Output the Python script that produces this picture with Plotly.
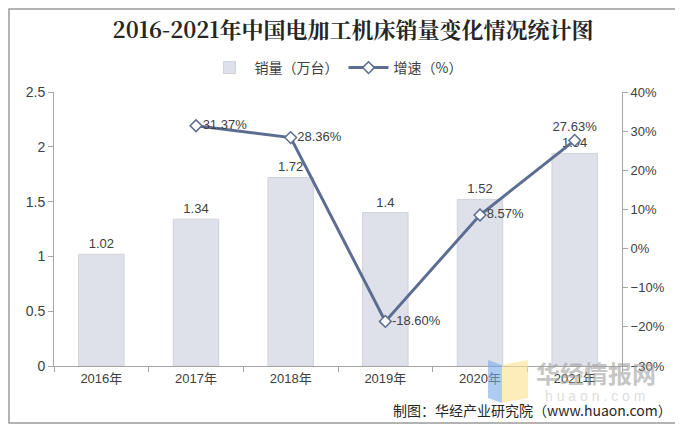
import plotly.graph_objects as go

years = ["2016年", "2017年", "2018年", "2019年", "2020年", "2021年"]
sales = [1.02, 1.34, 1.72, 1.4, 1.52, 1.94]
growth = [None, 31.37, 28.36, -18.60, 8.57, 27.63]
growth_labels = ["", "31.37%", "28.36%", "-18.60%", "8.57%", "27.63%"]
growth_pos = ["middle right", "middle right", "middle right", "middle right", "middle right", "top center"]

font_main = "Liberation Sans, Arial, Noto Sans CJK SC, sans-serif"
axis_col = "#a6a6a6"

# page offset (browser body margin) compensation
L, T, R, B = 46, 84, 69, 73
PW, PH = 683 - L - R, 431 - T - B


def px(xs):
    return (xs - 8 - L) / PW


def py(ys):
    return (431 - B - (ys - 8)) / PH


fig = go.Figure()
fig.add_trace(go.Bar(
    x=years, y=sales, name="销量（万台）",
    marker=dict(color="#dfe1ea", line=dict(color="#d0d2da", width=1)),
    width=0.48,
    text=[f"{v:g}" for v in sales], textposition="outside",
    textfont=dict(size=13, color="#404040", family=font_main),
    cliponaxis=False, yaxis="y",
))
fig.add_trace(go.Scatter(
    x=years, y=growth, name="增速（%）", yaxis="y2",
    mode="lines+markers+text",
    line=dict(color="#5b6e91", width=3),
    marker=dict(symbol="diamond", size=9, color="white", line=dict(color="#5b6e91", width=1.5)),
    text=growth_labels, textposition=growth_pos,
    textfont=dict(size=13, color="#404040", family=font_main),
    cliponaxis=False,
))

fig.update_layout(
    width=683, height=431,
    margin=dict(l=L, r=R, t=T, b=B),
    paper_bgcolor="white", plot_bgcolor="white",
    font=dict(family=font_main, size=13, color="#404040"),
    title=dict(text="<b>2016-2021年中国电加工机床销量变化情况统计图</b>",
               x=px(341), xanchor="center", y=1 - (30 - 8) / 431, yanchor="middle",
               font=dict(size=22, color="#262626", family="Noto Serif CJK SC, Noto Sans CJK SC, serif")),
    showlegend=True,
    legend=dict(orientation="h", x=px(336), xanchor="center", y=py(68), yanchor="middle",
                font=dict(size=14, color="#404040", family="Noto Sans CJK SC, sans-serif"),
                itemwidth=40, traceorder="normal"),
    xaxis=dict(type="category", showline=True, linecolor=axis_col, linewidth=1,
               ticks="outside", ticklen=5, tickcolor=axis_col, tickson="boundaries",
               tickfont=dict(size=13, color="#404040"), showgrid=False),
    yaxis=dict(range=[0, 2.5], dtick=0.5, showline=True, linecolor=axis_col,
               ticks="outside", ticklen=5, tickcolor=axis_col, showgrid=False, zeroline=False,
               tickfont=dict(size=14, color="#404040")),
    yaxis2=dict(range=[-30, 40], dtick=10, overlaying="y", side="right", ticksuffix="%",
                showline=True, linecolor=axis_col, ticks="outside", ticklen=5, tickcolor=axis_col,
                showgrid=False, zeroline=False, tickfont=dict(size=13, color="#404040")),
)

# outer border
fig.add_shape(type="rect", xref="paper", yref="paper", x0=px(9), x1=px(678), y0=py(423), y1=py(9),
              line=dict(color="#9a9a9a", width=1.5), fillcolor="rgba(0,0,0,0)", layer="above")

# watermark logo (open book)
fig.add_shape(type="path", xref="paper", yref="paper",
              path=f"M {px(488)} {py(360)} L {px(502)} {py(365)} L {px(502)} {py(403)} L {px(488)} {py(398)} Z",
              fillcolor="rgba(120,170,235,0.6)", line=dict(width=0))
fig.add_shape(type="path", xref="paper", yref="paper",
              path=f"M {px(502)} {py(365)} L {px(528)} {py(360)} L {px(528)} {py(398)} L {px(502)} {py(403)} Z",
              fillcolor="rgba(250,225,140,0.6)", line=dict(width=0))
fig.add_annotation(text="<b>华经情报网</b>", xref="paper", yref="paper", x=px(596), y=py(372),
                   xanchor="center", yanchor="middle", showarrow=False,
                   font=dict(size=24, color="rgba(160,160,160,0.6)", family="Noto Sans CJK SC"))
fig.add_annotation(text="h u a o n . c o m", xref="paper", yref="paper", x=px(595), y=py(396),
                   xanchor="center", yanchor="middle", showarrow=False,
                   font=dict(size=14, color="rgba(190,190,190,0.55)"))

fig.add_annotation(text="制图：华经产业研究院（www.huaon.com）", xref="paper", yref="paper",
                   x=px(674), y=py(410), xanchor="right", yanchor="middle", showarrow=False,
                   font=dict(size=14, color="#262626", family="Noto Sans CJK SC, sans-serif"))

fig.write_html("out.html")
